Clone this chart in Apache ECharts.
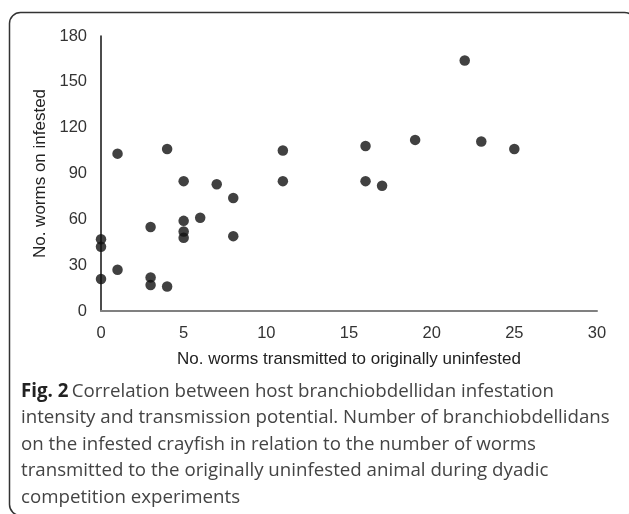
<!DOCTYPE html>
<html>
<head>
<meta charset="utf-8">
<script src="https://cdn.jsdelivr.net/npm/echarts@6/dist/echarts.min.js"></script>
<style>
  html, body { margin: 0; padding: 0; background: #fff; }
  #chart { width: 629px; height: 514px; }
</style>
</head>
<body>
<div id="chart"></div>
<script>
// worms transmitted to originally uninfested (x) vs worms on infested (y)
const transmitted = [0, 0, 0, 1, 1, 3, 3, 3, 4, 4, 5, 5, 5, 5, 6, 7, 8, 8, 11, 11, 16, 16, 17, 19, 22, 23, 25];
const onInfested  = [21, 47, 42, 27, 103, 55, 22, 17, 106, 16, 85, 59, 52, 48, 61, 83, 74, 49, 105, 85, 108, 85, 82, 112, 164, 111, 106];

const xTicks = [0, 5, 10, 15, 20, 25, 30];
const yTicks = [0, 30, 60, 90, 120, 150, 180];

const captionLines = [
	'intensity and transmission potential. Number of branchiobdellidans',
	'on the infested crayfish in relation to the number of worms',
	'transmitted to the originally uninfested animal during dyadic',
	'competition experiments'
];

const points = transmitted.map((x, i) => [x, onInfested[i]]);

let myChart = echarts.init(document.getElementById('chart'));

// caption text under the plot
const capFont = '"Open Sans", sans-serif';
let captionGraphics = [
	{
		type: 'text',
		left: 21,
		top: 382,
		style: {
			text: '{b|Fig. 2} {n|Correlation between host branchiobdellidan infestation}',
			rich: {
				b: { fontFamily: capFont, fontSize: 18.7, fontWeight: 'bold', fill: '#222' },
				n: { fontFamily: capFont, fontSize: 18.7, fill: '#444' }
			}
		}
	}
];
captionLines.forEach((line, i) => {
	captionGraphics.push({
		type: 'text',
		left: 21,
		top: 382 + (i + 1) * 26.5,
		style: { text: line, fontFamily: capFont, fontSize: 18.7, fill: '#444' }
	});
});

myChart.setOption({
	animation: false,
	backgroundColor: '#fff',
	grid: {
		left: 101,
		right: 32,
		top: 36,
		bottom: 203
	},
	xAxis: {
		type: 'value',
		min: 0,
		max: 30,
		interval: 5,
		name: 'No. worms transmitted to originally uninfested',
		nameLocation: 'middle',
		nameGap: 40,
		nameTextStyle: { fontFamily: 'Liberation Sans, Arial', fontSize: 17, color: '#222' },
		axisLine: { show: true, lineStyle: { color: '#808080', width: 2 } },
		axisTick: { show: false },
		splitLine: { show: false },
		axisLabel: {
			margin: 14,
			fontFamily: 'Liberation Sans, Arial',
			fontSize: 16.5,
			color: '#333',
			formatter: v => xTicks.includes(v) ? String(v) : ''
		}
	},
	yAxis: {
		type: 'value',
		min: 0,
		max: 180,
		interval: 30,
		name: 'No. worms on infested',
		nameLocation: 'middle',
		nameGap: 47,
		nameTextStyle: { fontFamily: 'Liberation Sans, Arial', fontSize: 17, color: '#222' },
		axisLine: { show: true, lineStyle: { color: '#111', width: 1.5 } },
		axisTick: { show: false },
		splitLine: { show: false },
		axisLabel: {
			margin: 14,
			fontFamily: 'Liberation Sans, Arial',
			fontSize: 16.5,
			color: '#333',
			formatter: v => yTicks.includes(v) ? String(v) : ''
		}
	},
	series: [
		{
			type: 'scatter',
			data: points,
			symbol: 'circle',
			symbolSize: 10.5,
			itemStyle: { color: '#111' }
		}
	],
	graphic: [
		{
			type: 'rect',
			shape: { x: 9.5, y: 12.5, width: 626, height: 503, r: 11 },
			style: { fill: 'none', stroke: '#333', lineWidth: 1.5 },
			silent: true
		}
	].concat(captionGraphics)
});
</script>
</body>
</html>
